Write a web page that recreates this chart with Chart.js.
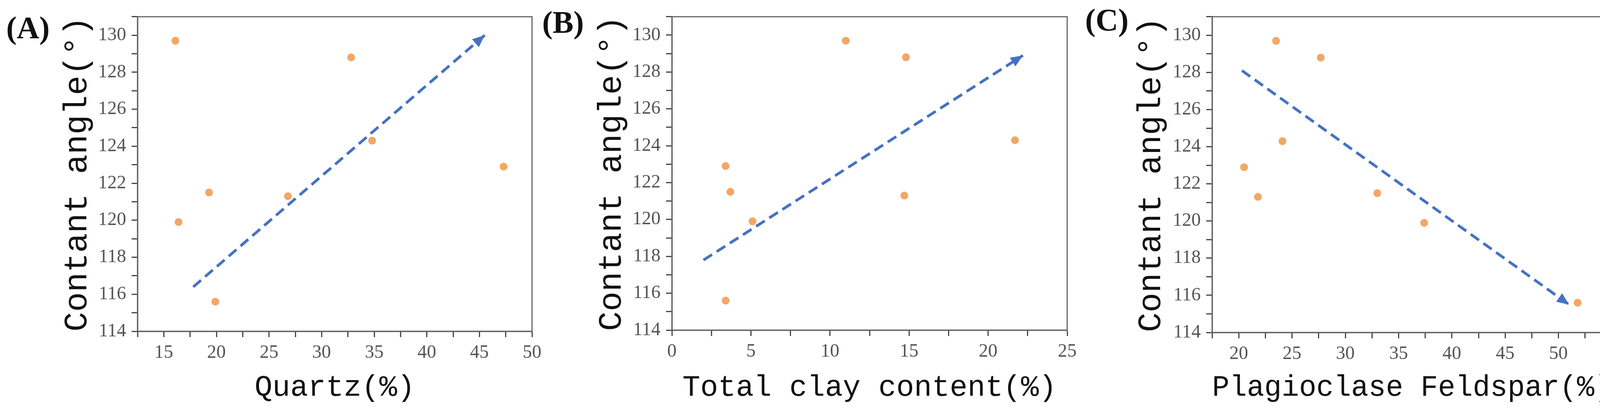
<!DOCTYPE html>
<html>
<head>
<meta charset="utf-8">
<script src="https://cdn.jsdelivr.net/npm/chart.js@4"></script>
<style>
  body { margin: 0; width: 4177px; height: 1070px; background: #fff; position: relative; overflow: hidden; }
  .panel { position: absolute; top: 0; height: 1070px; }
  .tag { position: absolute; font: bold 80px "Liberation Serif", serif; color: #111; }
</style>
</head>
<body>
<div class="tag" style="left:16px;top:26px">(A)</div>
<div class="tag" style="left:1388px;top:12px">(B)</div>
<div class="tag" style="left:2778px;top:6px">(C)</div>
<div class="panel" style="left:148px;width:1250px"><canvas id="chartA"></canvas></div>
<div class="panel" style="left:1516px;width:1252px"><canvas id="chartB"></canvas></div>
<div class="panel" style="left:2897px;width:1270px"><canvas id="chartC"></canvas></div>
<script>
// Panel A: quartz vs contact angle
const quartz = [16.1, 16.4, 19.3, 19.9, 26.8, 32.8, 34.8, 47.3];
const angleA = [129.7, 119.9, 121.5, 115.6, 121.3, 128.8, 124.3, 122.9];
const arrowA = [[17.8, 116.4], [45.5, 130.0]];

// Panel B: total clay vs contact angle
const clay = [3.4, 3.7, 3.4, 5.1, 11.0, 14.8, 14.7, 21.7];
const angleB = [122.9, 121.5, 115.6, 119.9, 129.7, 128.8, 121.3, 124.3];
const arrowB = [[2.0, 117.8], [22.2, 128.9]];

// Panel C: plagioclase feldspar vs contact angle
const feldspar = [20.5, 21.8, 23.5, 24.1, 27.7, 33.0, 37.4, 51.8];
const angleC = [122.9, 121.3, 129.7, 124.3, 128.8, 121.5, 119.9, 115.6];
const arrowC = [[20.3, 128.1], [51.0, 115.5]];

const yRange = [114, 131];
const yTickStep = 2;

const BLUE = '#4472c4';
const ORANGE = '#f2a766';
const AXIS = '#444';

// draws the box frame and the arrowhead at the end of the trend line
const framePlugin = {
    id: 'frame',
    afterDatasetsDraw(chart) {
        const { ctx, chartArea: a, scales } = chart;
        ctx.save();
        ctx.strokeStyle = '#666';
        ctx.lineWidth = 3;
        ctx.strokeRect(a.left, a.top, a.right - a.left, a.bottom - a.top);
        const pts = chart.data.datasets[1].data;
        const x0 = scales.x.getPixelForValue(pts[0].x), y0 = scales.y.getPixelForValue(pts[0].y);
        const x1 = scales.x.getPixelForValue(pts[1].x), y1 = scales.y.getPixelForValue(pts[1].y);
        const ang = Math.atan2(y1 - y0, x1 - x0);
        ctx.fillStyle = BLUE;
        ctx.beginPath();
        ctx.moveTo(x1, y1);
        ctx.lineTo(x1 - 34 * Math.cos(ang - 0.4), y1 - 34 * Math.sin(ang - 0.4));
        ctx.lineTo(x1 - 34 * Math.cos(ang + 0.4), y1 - 34 * Math.sin(ang + 0.4));
        ctx.closePath();
        ctx.fill();
        ctx.restore();
    }
};

function makeChart(id, xs, ys, arrow, xMin, xMax, xTitle, box) {
    const yWidth = box.left;
    const xHeight = 1070 - box.bottom;
    return new Chart(document.getElementById(id), {
        data: {
            datasets: [
                {
                    type: 'scatter',
                    data: xs.map((x, i) => ({ x: x, y: ys[i] })),
                    backgroundColor: ORANGE,
                    borderWidth: 0,
                    pointRadius: 10
                },
                {
                    type: 'line',
                    data: arrow.map(p => ({ x: p[0], y: p[1] })),
                    borderColor: BLUE,
                    borderWidth: 7,
                    borderDash: [26, 14],
                    pointRadius: 0,
                    fill: false
                }
            ]
        },
        options: {
            responsive: true,
            maintainAspectRatio: false,
            animation: false,
            layout: { padding: { top: box.top, right: box.right, left: 0, bottom: 0 } },
            plugins: { legend: { display: false }, tooltip: { enabled: false } },
            scales: {
                x: {
                    type: 'linear',
                    min: xMin,
                    max: xMax,
                    afterBuildTicks(scale) {
                        const t = [];
                        for (let v = Math.ceil(xMin / 2.5) * 2.5; v <= xMax + 1e-9; v += 2.5) t.push({ value: v });
                        scale.ticks = t;
                    },
                    afterFit(scale) { scale.height = xHeight; },
                    ticks: {
                        autoSkip: false,
                        maxRotation: 0,
                        padding: 12,
                        color: '#555',
                        font: { family: 'Liberation Serif', size: 48 },
                        callback: v => (v % 5 === 0 ? v : '')
                    },
                    grid: { drawOnChartArea: false, tickLength: 15, tickWidth: 3, tickColor: AXIS },
                    border: { color: AXIS, width: 3 },
                    title: {
                        display: true,
                        text: xTitle,
                        color: '#111',
                        font: { family: 'Liberation Mono', size: 76 },
                        padding: { top: 0, bottom: 32 }
                    }
                },
                y: {
                    type: 'linear',
                    min: yRange[0],
                    max: yRange[1],
                    afterBuildTicks(scale) {
                        const t = [];
                        for (let v = yRange[0]; v <= yRange[1]; v++) t.push({ value: v });
                        scale.ticks = t;
                    },
                    afterFit(scale) { scale.width = yWidth; },
                    ticks: {
                        autoSkip: false,
                        padding: 14,
                        color: '#555',
                        font: { family: 'Liberation Serif', size: 48 },
                        callback: v => (v % yTickStep === 0 ? v : '')
                    },
                    grid: { drawOnChartArea: false, tickLength: 15, tickWidth: 3, tickColor: AXIS },
                    border: { color: AXIS, width: 3 },
                    title: {
                        display: true,
                        text: 'Contant angle(°)',
                        color: '#111',
                        font: { family: 'Liberation Mono', size: 84 },
                        padding: { top: 0, bottom: 0 }
                    }
                }
            }
        },
        plugins: [framePlugin]
    });
}

makeChart('chartA', quartz, angleA, arrowA, 12.5, 50, 'Quartz(%)',
    { left: 204, top: 33, right: 1250 - 1218, bottom: 848 });
makeChart('chartB', clay, angleB, arrowB, 0, 25, 'Total clay content(%)',
    { left: 204, top: 29, right: 1252 - 1222, bottom: 845 });
makeChart('chartC', feldspar, angleC, arrowC, 17.5, 55, 'Plagioclase Feldspar(%)',
    { left: 206, top: 35, right: 1270 - 1229, bottom: 851 });
</script>
</body>
</html>
